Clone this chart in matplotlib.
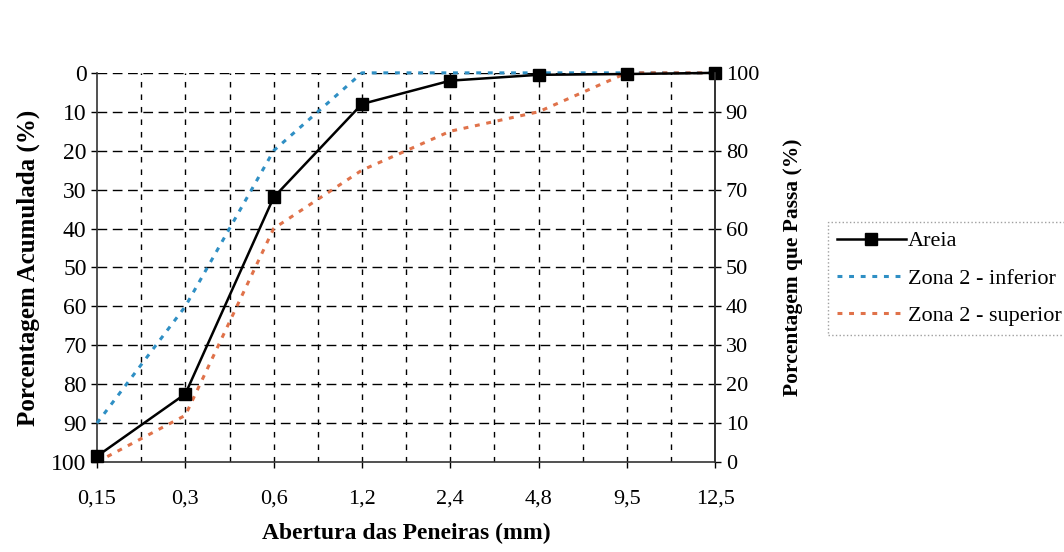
import matplotlib
matplotlib.use("Agg")
import matplotlib.pyplot as plt

# sieve openings (mm) and cumulative retained percentages
peneiras = ["0,15", "0,3", "0,6", "1,2", "2,4", "4,8", "9,5", "12,5"]
areia = [98.5, 82.5, 32, 8, 2, 0.5, 0.3, 0]
zona2_inferior = [90, 60, 20, 0, 0, 0, 0, 0]
zona2_superior = [100, 88, 40, 25, 15, 10, 0, 0]

plt.rcParams['font.family'] = ['Liberation Serif', 'DejaVu Serif']


def draw():
    fig = plt.figure(figsize=(10.64, 5.52), dpi=100)
    ax = fig.add_axes([0.0912, 0.163, 0.581, 0.705])
    x = list(range(len(peneiras)))

    ax.plot(x, zona2_inferior, linestyle=(0, (1.6, 2.2)), color="#2f8fc4",
            linewidth=2.2, label="Zona 2 - inferior", zorder=3, clip_on=False)
    ax.plot(x, zona2_superior, linestyle=(0, (1.6, 2.2)), color="#e0724a",
            linewidth=2.2, label="Zona 2 - superior", zorder=3, clip_on=False)
    ax.plot(x, areia, color="black", linewidth=1.8, marker="s", markersize=8,
            label="Areia", zorder=4, clip_on=False)

    ax.set_xlim(0, len(peneiras) - 1)
    ax.set_ylim(100, 0)
    ax.set_xticks(x)
    ax.set_xticklabels(peneiras)
    ax.set_yticks(range(0, 101, 10))

    # dashed grid, with extra vertical lines halfway between sieves
    for v in [i + 0.5 for i in range(len(peneiras) - 1)] + x[1:-1]:
        ax.axvline(v, color="black", linestyle=(0, (4, 5)), linewidth=1, zorder=1)
    for h in range(0, 100, 10):
        ax.axhline(h, color="black", linestyle=(0, (7, 4)), linewidth=1, zorder=1)

    ax.spines["top"].set_visible(False)
    for s in ["left", "bottom", "right"]:
        ax.spines[s].set_color("#333333")
        ax.spines[s].set_linewidth(1.2)

    ax.tick_params(axis="y", labelsize=17, length=4, width=1)
    ax.tick_params(axis="x", labelsize=16, length=4, width=1, pad=16)
    ax.set_ylabel("Porcentagem Acumulada (%)", fontsize=18, fontweight="bold",
                  labelpad=8)
    ax.set_xlabel("Abertura das Peneiras (mm)", fontsize=17, fontweight="bold",
                  labelpad=10)

    ax2 = ax.twinx()
    ax2.set_ylim(0, 100)
    ax2.set_yticks(range(0, 101, 10))
    ax2.tick_params(labelsize=16, length=4, width=1)
    for s in ["top", "left", "bottom"]:
        ax2.spines[s].set_visible(False)
    ax2.spines["right"].set_color("#333333")
    ax2.spines["right"].set_linewidth(1.2)
    ax2.set_ylabel("Porcentagem que Passa (%)", fontsize=15.5, fontweight="bold",
                   labelpad=17)

    handles, labels = ax.get_legend_handles_labels()
    order = [2, 0, 1]
    leg = fig.legend([handles[i] for i in order], [labels[i] for i in order],
                     loc="upper left", bbox_to_anchor=(0.778, 0.598),
                     fontsize=16, frameon=True, fancybox=False,
                     handlelength=3.1, handletextpad=0.1, borderpad=0.4,
                     labelspacing=0.75, borderaxespad=0)
    leg.get_frame().set_edgecolor("#888888")
    leg.get_frame().set_linestyle(":")
    leg.get_frame().set_linewidth(1)

    fig.savefig("out.png", dpi=100)


def main():
    draw()


if __name__ == '__main__':
    main()
